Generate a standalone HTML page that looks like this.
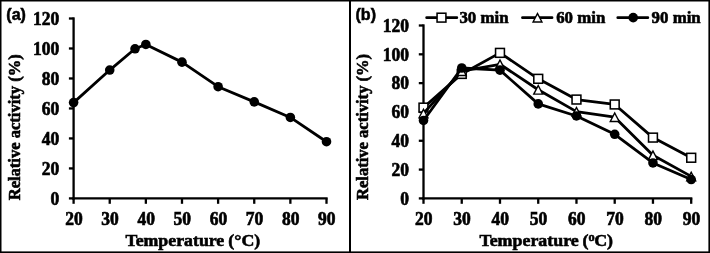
<!DOCTYPE html>
<html lang="en"><head><meta charset="utf-8"><title>Relative activity vs temperature</title>
<style>html,body{margin:0;padding:0;background:#fff}svg{display:block}</style></head>
<body>
<svg width="710" height="253" viewBox="0 0 710 253">
<rect x="0" y="0" width="710" height="253" fill="#fff"/>
<g fill="#000">
<rect x="0" y="0" width="1.5" height="253"/>
<rect x="0" y="0" width="710" height="1.5"/>
<rect x="708.4" y="0" width="1.6" height="253"/>
<rect x="0" y="251.4" width="710" height="1.6"/>
<rect x="349" y="0" width="2" height="253"/>
</g>
<g stroke="#000" stroke-width="2.3" fill="none" stroke-linecap="butt">
<line x1="73.60" y1="17.35" x2="73.60" y2="199.55"/>
<line x1="72.45" y1="198.40" x2="327.65" y2="198.40"/>
<line x1="68.90" y1="198.40" x2="73.60" y2="198.40"/>
<line x1="68.90" y1="168.42" x2="73.60" y2="168.42"/>
<line x1="68.90" y1="138.43" x2="73.60" y2="138.43"/>
<line x1="68.90" y1="108.45" x2="73.60" y2="108.45"/>
<line x1="68.90" y1="78.47" x2="73.60" y2="78.47"/>
<line x1="68.90" y1="48.48" x2="73.60" y2="48.48"/>
<line x1="68.90" y1="18.50" x2="73.60" y2="18.50"/>
<line x1="73.60" y1="198.40" x2="73.60" y2="203.80"/>
<line x1="109.73" y1="198.40" x2="109.73" y2="203.80"/>
<line x1="145.86" y1="198.40" x2="145.86" y2="203.80"/>
<line x1="181.99" y1="198.40" x2="181.99" y2="203.80"/>
<line x1="218.11" y1="198.40" x2="218.11" y2="203.80"/>
<line x1="254.24" y1="198.40" x2="254.24" y2="203.80"/>
<line x1="290.37" y1="198.40" x2="290.37" y2="203.80"/>
<line x1="326.50" y1="198.40" x2="326.50" y2="203.80"/>
</g>
<g stroke="#000" stroke-width="2.3" fill="none" stroke-linecap="butt">
<line x1="423.50" y1="24.35" x2="423.50" y2="199.55"/>
<line x1="422.35" y1="198.40" x2="692.35" y2="198.40"/>
<line x1="418.80" y1="198.40" x2="423.50" y2="198.40"/>
<line x1="418.80" y1="169.58" x2="423.50" y2="169.58"/>
<line x1="418.80" y1="140.77" x2="423.50" y2="140.77"/>
<line x1="418.80" y1="111.95" x2="423.50" y2="111.95"/>
<line x1="418.80" y1="83.13" x2="423.50" y2="83.13"/>
<line x1="418.80" y1="54.32" x2="423.50" y2="54.32"/>
<line x1="418.80" y1="25.50" x2="423.50" y2="25.50"/>
<line x1="423.50" y1="198.40" x2="423.50" y2="203.80"/>
<line x1="461.74" y1="198.40" x2="461.74" y2="203.80"/>
<line x1="499.99" y1="198.40" x2="499.99" y2="203.80"/>
<line x1="538.23" y1="198.40" x2="538.23" y2="203.80"/>
<line x1="576.47" y1="198.40" x2="576.47" y2="203.80"/>
<line x1="614.71" y1="198.40" x2="614.71" y2="203.80"/>
<line x1="652.96" y1="198.40" x2="652.96" y2="203.80"/>
<line x1="691.20" y1="198.40" x2="691.20" y2="203.80"/>
</g>
<text transform="translate(59.30,204.60) scale(1,1.04)" font-family="'Liberation Serif', serif" font-weight="bold" font-size="17.5px" text-anchor="end" fill="#000" stroke="#000" stroke-width="0.62">0</text>
<text transform="translate(409.00,204.60) scale(1,1.04)" font-family="'Liberation Serif', serif" font-weight="bold" font-size="17.5px" text-anchor="end" fill="#000" stroke="#000" stroke-width="0.62">0</text>
<text transform="translate(59.30,174.62) scale(1,1.04)" font-family="'Liberation Serif', serif" font-weight="bold" font-size="17.5px" text-anchor="end" fill="#000" stroke="#000" stroke-width="0.62">20</text>
<text transform="translate(409.00,175.78) scale(1,1.04)" font-family="'Liberation Serif', serif" font-weight="bold" font-size="17.5px" text-anchor="end" fill="#000" stroke="#000" stroke-width="0.62">20</text>
<text transform="translate(59.30,144.63) scale(1,1.04)" font-family="'Liberation Serif', serif" font-weight="bold" font-size="17.5px" text-anchor="end" fill="#000" stroke="#000" stroke-width="0.62">40</text>
<text transform="translate(409.00,146.97) scale(1,1.04)" font-family="'Liberation Serif', serif" font-weight="bold" font-size="17.5px" text-anchor="end" fill="#000" stroke="#000" stroke-width="0.62">40</text>
<text transform="translate(59.30,114.65) scale(1,1.04)" font-family="'Liberation Serif', serif" font-weight="bold" font-size="17.5px" text-anchor="end" fill="#000" stroke="#000" stroke-width="0.62">60</text>
<text transform="translate(409.00,118.15) scale(1,1.04)" font-family="'Liberation Serif', serif" font-weight="bold" font-size="17.5px" text-anchor="end" fill="#000" stroke="#000" stroke-width="0.62">60</text>
<text transform="translate(59.30,84.67) scale(1,1.04)" font-family="'Liberation Serif', serif" font-weight="bold" font-size="17.5px" text-anchor="end" fill="#000" stroke="#000" stroke-width="0.62">80</text>
<text transform="translate(409.00,89.33) scale(1,1.04)" font-family="'Liberation Serif', serif" font-weight="bold" font-size="17.5px" text-anchor="end" fill="#000" stroke="#000" stroke-width="0.62">80</text>
<text transform="translate(59.30,54.68) scale(1,1.04)" font-family="'Liberation Serif', serif" font-weight="bold" font-size="17.5px" text-anchor="end" fill="#000" stroke="#000" stroke-width="0.62">100</text>
<text transform="translate(409.00,60.52) scale(1,1.04)" font-family="'Liberation Serif', serif" font-weight="bold" font-size="17.5px" text-anchor="end" fill="#000" stroke="#000" stroke-width="0.62">100</text>
<text transform="translate(59.30,24.70) scale(1,1.04)" font-family="'Liberation Serif', serif" font-weight="bold" font-size="17.5px" text-anchor="end" fill="#000" stroke="#000" stroke-width="0.62">120</text>
<text transform="translate(409.00,31.70) scale(1,1.04)" font-family="'Liberation Serif', serif" font-weight="bold" font-size="17.5px" text-anchor="end" fill="#000" stroke="#000" stroke-width="0.62">120</text>
<text transform="translate(73.90,225.00) scale(1,1.03)" font-family="'Liberation Serif', serif" font-weight="bold" font-size="17.5px" text-anchor="middle" fill="#000" stroke="#000" stroke-width="0.62">20</text>
<text transform="translate(423.80,225.00) scale(1,1.03)" font-family="'Liberation Serif', serif" font-weight="bold" font-size="17.5px" text-anchor="middle" fill="#000" stroke="#000" stroke-width="0.62">20</text>
<text transform="translate(110.03,225.00) scale(1,1.03)" font-family="'Liberation Serif', serif" font-weight="bold" font-size="17.5px" text-anchor="middle" fill="#000" stroke="#000" stroke-width="0.62">30</text>
<text transform="translate(462.04,225.00) scale(1,1.03)" font-family="'Liberation Serif', serif" font-weight="bold" font-size="17.5px" text-anchor="middle" fill="#000" stroke="#000" stroke-width="0.62">30</text>
<text transform="translate(146.16,225.00) scale(1,1.03)" font-family="'Liberation Serif', serif" font-weight="bold" font-size="17.5px" text-anchor="middle" fill="#000" stroke="#000" stroke-width="0.62">40</text>
<text transform="translate(500.29,225.00) scale(1,1.03)" font-family="'Liberation Serif', serif" font-weight="bold" font-size="17.5px" text-anchor="middle" fill="#000" stroke="#000" stroke-width="0.62">40</text>
<text transform="translate(182.29,225.00) scale(1,1.03)" font-family="'Liberation Serif', serif" font-weight="bold" font-size="17.5px" text-anchor="middle" fill="#000" stroke="#000" stroke-width="0.62">50</text>
<text transform="translate(538.53,225.00) scale(1,1.03)" font-family="'Liberation Serif', serif" font-weight="bold" font-size="17.5px" text-anchor="middle" fill="#000" stroke="#000" stroke-width="0.62">50</text>
<text transform="translate(218.41,225.00) scale(1,1.03)" font-family="'Liberation Serif', serif" font-weight="bold" font-size="17.5px" text-anchor="middle" fill="#000" stroke="#000" stroke-width="0.62">60</text>
<text transform="translate(576.77,225.00) scale(1,1.03)" font-family="'Liberation Serif', serif" font-weight="bold" font-size="17.5px" text-anchor="middle" fill="#000" stroke="#000" stroke-width="0.62">60</text>
<text transform="translate(254.54,225.00) scale(1,1.03)" font-family="'Liberation Serif', serif" font-weight="bold" font-size="17.5px" text-anchor="middle" fill="#000" stroke="#000" stroke-width="0.62">70</text>
<text transform="translate(615.01,225.00) scale(1,1.03)" font-family="'Liberation Serif', serif" font-weight="bold" font-size="17.5px" text-anchor="middle" fill="#000" stroke="#000" stroke-width="0.62">70</text>
<text transform="translate(290.67,225.00) scale(1,1.03)" font-family="'Liberation Serif', serif" font-weight="bold" font-size="17.5px" text-anchor="middle" fill="#000" stroke="#000" stroke-width="0.62">80</text>
<text transform="translate(653.26,225.00) scale(1,1.03)" font-family="'Liberation Serif', serif" font-weight="bold" font-size="17.5px" text-anchor="middle" fill="#000" stroke="#000" stroke-width="0.62">80</text>
<text transform="translate(326.80,225.00) scale(1,1.03)" font-family="'Liberation Serif', serif" font-weight="bold" font-size="17.5px" text-anchor="middle" fill="#000" stroke="#000" stroke-width="0.62">90</text>
<text transform="translate(691.50,225.00) scale(1,1.03)" font-family="'Liberation Serif', serif" font-weight="bold" font-size="17.5px" text-anchor="middle" fill="#000" stroke="#000" stroke-width="0.62">90</text>
<text transform="translate(125.40,246.30) scale(1,0.95)" font-family="'Liberation Serif', serif" font-weight="bold" font-size="17.8px" text-anchor="start" fill="#000" stroke="#000" stroke-width="0.6">Temperature <tspan dx="-0.4">(°C)</tspan></text>
<text transform="translate(479.40,246.30) scale(1,0.95)" font-family="'Liberation Serif', serif" font-weight="bold" font-size="17.9px" text-anchor="start" fill="#000" stroke="#000" stroke-width="0.6">Temperature <tspan dx="-0.7">(</tspan><tspan font-size="12.3px" dy="-5.5">o</tspan><tspan dy="5.5" dx="-0.4">C)</tspan></text>
<text transform="translate(20.40,200.30) rotate(-90) scale(1,0.96)" font-family="'Liberation Serif', serif" font-weight="bold" font-size="16.55px" text-anchor="start" fill="#000" stroke="#000" stroke-width="0.6">Relative activity (%)</text>
<text transform="translate(368.40,200.00) rotate(-90) scale(1,0.96)" font-family="'Liberation Serif', serif" font-weight="bold" font-size="16.55px" text-anchor="start" fill="#000" stroke="#000" stroke-width="0.6">Relative activity (%)</text>
<text transform="translate(459.40,22.90) scale(1,1.02)" font-family="'Liberation Serif', serif" font-weight="bold" font-size="16.85px" text-anchor="start" fill="#000" stroke="#000" stroke-width="0.6">30 min</text>
<text transform="translate(556.20,22.90) scale(1,1.02)" font-family="'Liberation Serif', serif" font-weight="bold" font-size="16.85px" text-anchor="start" fill="#000" stroke="#000" stroke-width="0.6">60 min</text>
<text transform="translate(651.60,22.90) scale(1,1.02)" font-family="'Liberation Serif', serif" font-weight="bold" font-size="16.85px" text-anchor="start" fill="#000" stroke="#000" stroke-width="0.6">90 min</text>
<text transform="translate(6.30,20.00) scale(0.95,1.0)" font-family="'Liberation Sans', sans-serif" font-weight="bold" font-size="16.9px" text-anchor="start" fill="#000" stroke="#000" stroke-width="0.55">(a)</text>
<text transform="translate(355.50,19.60) scale(0.95,1.0)" font-family="'Liberation Sans', sans-serif" font-weight="bold" font-size="16.9px" text-anchor="start" fill="#000" stroke="#000" stroke-width="0.55">(b)</text>
<polyline fill="none" stroke="#000" stroke-width="2.8" stroke-linejoin="round" points="73.60,102.60 109.73,70.07 135.02,48.78 145.86,44.44 181.99,62.13 218.11,86.71 254.24,101.85 290.37,117.45 326.50,141.73"/>
<circle cx="73.60" cy="102.60" r="4.8" fill="#000"/>
<circle cx="109.73" cy="70.07" r="4.8" fill="#000"/>
<circle cx="135.02" cy="48.78" r="4.8" fill="#000"/>
<circle cx="145.86" cy="44.44" r="4.8" fill="#000"/>
<circle cx="181.99" cy="62.13" r="4.8" fill="#000"/>
<circle cx="218.11" cy="86.71" r="4.8" fill="#000"/>
<circle cx="254.24" cy="101.85" r="4.8" fill="#000"/>
<circle cx="290.37" cy="117.45" r="4.8" fill="#000"/>
<circle cx="326.50" cy="141.73" r="4.8" fill="#000"/>
<polyline fill="none" stroke="#000" stroke-width="2.8" stroke-linejoin="round" points="423.50,107.63 461.74,73.91 499.99,52.88 538.23,78.81 576.47,99.56 614.71,104.46 652.96,137.60 691.20,157.77"/>
<rect x="419.07" y="103.20" width="8.85" height="8.85" fill="#fff" stroke="#000" stroke-width="1.55"/>
<rect x="457.32" y="69.49" width="8.85" height="8.85" fill="#fff" stroke="#000" stroke-width="1.55"/>
<rect x="495.56" y="48.45" width="8.85" height="8.85" fill="#fff" stroke="#000" stroke-width="1.55"/>
<rect x="533.80" y="74.39" width="8.85" height="8.85" fill="#fff" stroke="#000" stroke-width="1.55"/>
<rect x="572.05" y="95.13" width="8.85" height="8.85" fill="#fff" stroke="#000" stroke-width="1.55"/>
<rect x="610.29" y="100.03" width="8.85" height="8.85" fill="#fff" stroke="#000" stroke-width="1.55"/>
<rect x="648.53" y="133.17" width="8.85" height="8.85" fill="#fff" stroke="#000" stroke-width="1.55"/>
<rect x="686.78" y="153.34" width="8.85" height="8.85" fill="#fff" stroke="#000" stroke-width="1.55"/>
<polyline fill="none" stroke="#000" stroke-width="2.8" stroke-linejoin="round" points="423.50,113.39 461.74,71.03 499.99,64.26 538.23,89.76 576.47,111.66 614.71,117.14 652.96,155.18 691.20,176.36"/>
<polygon points="423.50,107.69 417.90,118.49 429.10,118.49" fill="#000"/><polygon points="423.50,110.73 420.20,117.09 426.80,117.09" fill="#fff"/>
<polygon points="461.74,65.33 456.14,76.13 467.34,76.13" fill="#000"/><polygon points="461.74,68.37 458.45,74.73 465.04,74.73" fill="#fff"/>
<polygon points="499.99,58.56 494.39,69.36 505.59,69.36" fill="#000"/><polygon points="499.99,61.60 496.69,67.96 503.28,67.96" fill="#fff"/>
<polygon points="538.23,84.06 532.63,94.86 543.83,94.86" fill="#000"/><polygon points="538.23,87.10 534.93,93.46 541.53,93.46" fill="#fff"/>
<polygon points="576.47,105.96 570.87,116.76 582.07,116.76" fill="#000"/><polygon points="576.47,109.00 573.17,115.36 579.77,115.36" fill="#fff"/>
<polygon points="614.71,111.44 609.11,122.24 620.31,122.24" fill="#000"/><polygon points="614.71,114.48 611.42,120.84 618.01,120.84" fill="#fff"/>
<polygon points="652.96,149.48 647.36,160.28 658.56,160.28" fill="#000"/><polygon points="652.96,152.52 649.66,158.88 656.25,158.88" fill="#fff"/>
<polygon points="691.20,170.66 685.60,181.46 696.80,181.46" fill="#000"/><polygon points="691.20,173.70 687.90,180.06 694.50,180.06" fill="#fff"/>
<polyline fill="none" stroke="#000" stroke-width="2.8" stroke-linejoin="round" points="423.50,120.45 461.74,68.00 499.99,70.17 538.23,103.88 576.47,115.98 614.71,134.28 652.96,162.96 691.20,179.53"/>
<circle cx="423.50" cy="120.45" r="4.8" fill="#000"/>
<circle cx="461.74" cy="68.00" r="4.8" fill="#000"/>
<circle cx="499.99" cy="70.17" r="4.8" fill="#000"/>
<circle cx="538.23" cy="103.88" r="4.8" fill="#000"/>
<circle cx="576.47" cy="115.98" r="4.8" fill="#000"/>
<circle cx="614.71" cy="134.28" r="4.8" fill="#000"/>
<circle cx="652.96" cy="162.96" r="4.8" fill="#000"/>
<circle cx="691.20" cy="179.53" r="4.8" fill="#000"/>
<line x1="426.7" y1="17.65" x2="456.8" y2="17.65" stroke="#000" stroke-width="2.8" stroke-linecap="round"/>
<rect x="437.07" y="13.22" width="8.85" height="8.85" fill="#fff" stroke="#000" stroke-width="1.55"/>
<line x1="522.5" y1="17.65" x2="552.0" y2="17.65" stroke="#000" stroke-width="2.8" stroke-linecap="round"/>
<polygon points="537.50,11.90 531.90,22.70 543.10,22.70" fill="#000"/><polygon points="537.50,14.94 534.20,21.30 540.80,21.30" fill="#fff"/>
<line x1="617.8" y1="17.65" x2="647.8" y2="17.65" stroke="#000" stroke-width="2.8" stroke-linecap="round"/>
<circle cx="633.20" cy="17.65" r="4.8" fill="#000"/>
</svg>
</body></html>
